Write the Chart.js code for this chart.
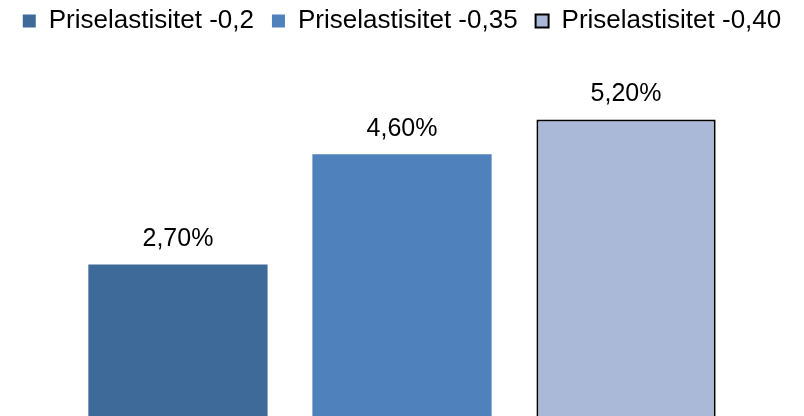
<!DOCTYPE html>
<html>
<head>
<meta charset="utf-8">
<script src="https://cdn.jsdelivr.net/npm/chart.js@4"></script>
<style>
    html, body { margin: 0; padding: 0; background: #fff; overflow: hidden; }
    .chart-wrap { width: 804px; height: 421px; position: relative; }
</style>
</head>
<body>
<div class="chart-wrap"><canvas id="elasticityChart"></canvas></div>
<script>
// Chart data
const categories = [''];
const seriesNames = ['Priselastisitet -0,2', 'Priselastisitet -0,35', 'Priselastisitet -0,40'];
const seriesValues = [[2.7], [4.6], [5.2]];
const seriesColors = ['#3e6a9a', '#4f81bd', '#aab9d7'];

// Draws the value labels above each bar
const barLabels = {
    id: 'barLabels',
    afterDatasetsDraw(chart) {
        const ctx = chart.ctx;
        ctx.save();
        ctx.font = '25px "Liberation Sans", Arial, sans-serif';
        ctx.fillStyle = '#000';
        ctx.textAlign = 'center';
        ctx.textBaseline = 'alphabetic';
        chart.data.datasets.forEach((ds, i) => {
            chart.getDatasetMeta(i).data.forEach((bar, j) => {
                const txt = ds.data[j].toFixed(2).replace('.', ',') + '%';
                ctx.fillText(txt, bar.x, bar.y - 18);
            });
        });
        ctx.restore();
    }
};

document.addEventListener('DOMContentLoaded', function() {
    const ctx = document.getElementById('elasticityChart').getContext('2d');
    new Chart(ctx, {
        type: 'bar',
        data: {
            labels: categories,
            datasets: seriesNames.map((name, i) => ({
                label: name,
                data: seriesValues[i],
                backgroundColor: seriesColors[i],
                borderColor: i === 2 ? '#000' : seriesColors[i],
                borderWidth: i === 2 ? 2 : 0,
                categoryPercentage: 0.836,
                barPercentage: 0.8
            }))
        },
        options: {
            responsive: true,
            maintainAspectRatio: false,
            animation: false,
            layout: { padding: { top: -10, left: 0, right: 0, bottom: 0 } },
            plugins: {
                legend: {
                    position: 'top',
                    labels: {
                        boxWidth: 13,
                        boxHeight: 13,
                        color: '#000',
                        padding: 18,
                        font: { family: '"Liberation Sans", Arial, sans-serif', size: 26 }
                    }
                },
                tooltip: { enabled: false }
            },
            scales: {
                x: { display: false },
                y: { display: false, min: 0, max: 6.5 }
            }
        },
        plugins: [barLabels]
    });
});
</script>
</body>
</html>
